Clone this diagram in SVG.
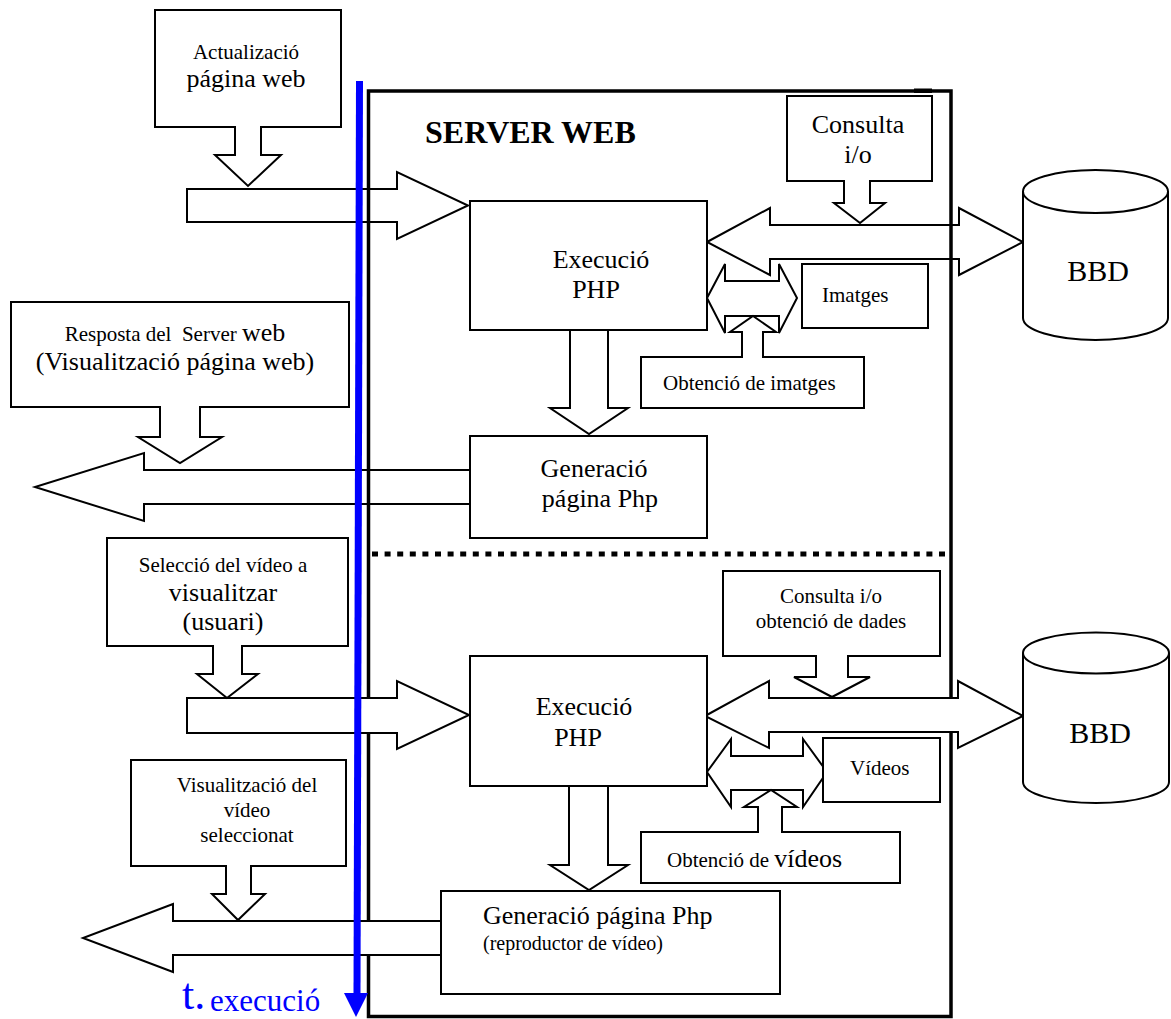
<svg xmlns="http://www.w3.org/2000/svg" width="1171" height="1019" viewBox="0 0 1171 1019">
  <defs>
    <style>
      .box { fill: #fff; stroke: #000; stroke-width: 2; }
      .open { fill: none; stroke: #000; stroke-width: 2; }
      .solid { fill: #fff; stroke: #000; stroke-width: 2; }
      text { font-family: "Liberation Serif", "Times New Roman", serif; fill: #000; }
      .t21 { font-size: 21px; }
      .t26 { font-size: 26px; }
      .t30 { font-size: 30px; }
      .mid { text-anchor: middle; }
    </style>
  </defs>
  <rect width="1171" height="1019" fill="#fff"/>

  <!-- server frame -->
  <g id="server-web">
    <rect x="368.5" y="91" width="582.5" height="925.5" fill="none" stroke="#000" stroke-width="3.5"/>
    <rect x="914" y="88.5" width="18" height="4.5" fill="#000"/>
    <line x1="372" y1="554" x2="949" y2="554" stroke="#000" stroke-width="5" stroke-dasharray="6 6.6"/>
    <text x="425" y="143" style="font-size:32px;font-weight:bold">SERVER WEB</text>
  </g>

  <!-- block arrows -->
  <g id="connectors">
    <!-- upper request/response cycle -->
    <path class="open" d="M187,189 H397 V172 L468,205.5 L397,239 V222 H187 Z"/>
    <path class="open" d="M570,330 V408 H550 L589,434 L628,408 H608 V330"/>
    <path class="open" d="M470,470 H144 V453 L35,487 L144,521 V504 H470"/>
    <path class="open" d="M707,242 L770,208 V225 H959 V208 L1023,242 L959,275 V259 H770 V275 Z"/>
    <path class="open" d="M707,298 L725,264 V281 H779 V264 L797,298 L779,333 V316 H725 V333 Z"/>
    <!-- lower request/response cycle -->
    <path class="solid" d="M187,698 H397 V681 L469,715 L397,749 V733 H187 Z"/>
    <path class="solid" d="M569,786 V865 H550 L589,890 L628,865 H608 V786 Z"/>
    <path class="solid" d="M441,921 H173 V904 L83,938 L173,972 V955 H441 Z"/>
    <path class="solid" d="M705,716 L769,681 V698 H958 V681 L1023,716 L958,748 V732 H769 V748 Z"/>
    <path class="solid" d="M707,772 L731,739 V756 H803 V739 L827,772 L803,807 V790 H731 V807 Z"/>
  </g>

  <!-- client-side callouts -->
  <g id="actualitzacio">
    <path class="box" d="M155,10 H341 V127 H261 V155 H281 L248,186 L215,155 H235 V127 H155 Z"/>
    <text class="t21 mid" x="246" y="59">Actualizació</text>
    <text class="t26 mid" x="246" y="87">página web</text>
  </g>
  <g id="resposta">
    <path class="box" d="M11,302 H349 V407 H200 V437 H222 L180,463 L138,437 H160 V407 H11 Z"/>
    <text class="t21 mid" x="175" y="341" xml:space="preserve">Resposta del  Server <tspan style="font-size:26px">web</tspan></text>
    <text class="t26 mid" x="175" y="370">(Visualització página web)</text>
  </g>
  <g id="seleccio">
    <path class="box" d="M107,538 H348 V646 H242 V674 H258 L227,698 L197,674 H213 V646 H107 Z"/>
    <text class="t21 mid" x="223" y="572">Selecció del vídeo a</text>
    <text class="t26 mid" x="223" y="601">visualitzar</text>
    <text class="t26 mid" x="223" y="630">(usuari)</text>
  </g>
  <g id="visualitzacio">
    <path class="box" d="M131,760 H346 V866 H251 V894 H265 L238,920 L212,894 H226 V866 H131 Z"/>
    <text class="t21 mid" x="247" y="792">Visualització del</text>
    <text class="t21 mid" x="247" y="817">vídeo</text>
    <text class="t21 mid" x="247" y="842">seleccionat</text>
  </g>

  <!-- server-side processes, upper part -->
  <g id="execucio-1">
    <rect class="box" x="470" y="201" width="237" height="129"/>
    <text class="t26 mid" x="601" y="268">Execució</text>
    <text class="t26 mid" x="596" y="298">PHP</text>
  </g>
  <g id="generacio-1">
    <rect class="box" x="470" y="436" width="237" height="102"/>
    <text class="t26 mid" x="594" y="477">Generació</text>
    <text class="t26 mid" x="600" y="507">página Php</text>
  </g>
  <g id="consulta-1">
    <path class="box" d="M787,96 H932 V181 H870 V203 H885 L860,223 L834,203 H844 V181 H787 Z"/>
    <text class="t26 mid" x="858" y="133">Consulta</text>
    <text class="t26 mid" x="858" y="163">i/o</text>
  </g>
  <g id="imatges">
    <rect class="box" x="802" y="264" width="126" height="64"/>
    <text class="t21" x="822" y="302">Imatges</text>
  </g>
  <g id="obtencio-imatges">
    <path class="box" d="M641,357 H742 V332 H730 L753,316 L776,332 H763 V357 H864 V408 H641 Z"/>
    <text class="t21" x="663" y="390">Obtenció de imatges</text>
  </g>
  <g id="bbd-1">
    <path class="box" d="M1023,191.5 A72.5,21.5 0 0 1 1168,191.5 V318 A72.5,22 0 0 1 1023,318 Z"/>
    <path class="open" d="M1023,191.5 A72.5,21.5 0 0 0 1168,191.5"/>
    <text class="t30 mid" x="1098" y="281">BBD</text>
  </g>

  <!-- server-side processes, lower part -->
  <g id="execucio-2">
    <rect class="box" x="470" y="656" width="237" height="130"/>
    <text class="t26 mid" x="584" y="715">Execució</text>
    <text class="t26 mid" x="578" y="746">PHP</text>
  </g>
  <g id="generacio-2">
    <rect class="box" x="441" y="891" width="339" height="103"/>
    <text class="t26" x="483" y="924">Generació página Php</text>
    <text style="font-size:20px" x="483" y="950">(reproductor de vídeo)</text>
  </g>
  <g id="consulta-2">
    <path class="box" d="M723,571 H940 V656 H848 V677 H870 L832,697 L794,677 H816 V656 H723 Z"/>
    <text class="t21 mid" x="831" y="603">Consulta i/o</text>
    <text class="t21 mid" x="831" y="628">obtenció de dades</text>
  </g>
  <g id="videos">
    <rect class="box" x="823" y="738" width="117" height="64"/>
    <text class="t21" x="850" y="775">Vídeos</text>
  </g>
  <g id="obtencio-videos">
    <path class="box" d="M641,832 H758 V807 H744 L771,790 L797,807 H782 V832 H900 V883 H641 Z"/>
    <text class="t21" x="667" y="867">Obtenció de <tspan style="font-size:26px">vídeos</tspan></text>
  </g>
  <g id="bbd-2">
    <path class="box" d="M1023,653 A73,20.5 0 0 1 1169,653 V782 A73,21 0 0 1 1023,782 Z"/>
    <path class="open" d="M1023,653 A73,20.5 0 0 0 1169,653"/>
    <text class="t30 mid" x="1100" y="743">BBD</text>
  </g>

  <!-- execution time axis -->
  <g id="time-axis">
    <line x1="359.5" y1="81" x2="357" y2="995" stroke="#0000ff" stroke-width="7"/>
    <polygon points="344,993 368,993 356,1017" fill="#0000ff"/>
    <text x="182" y="1009" style="font-size:44px;fill:#0000ff">t.</text>
    <text x="210" y="1011" style="font-size:31px;fill:#0000ff">execució</text>
  </g>
</svg>
